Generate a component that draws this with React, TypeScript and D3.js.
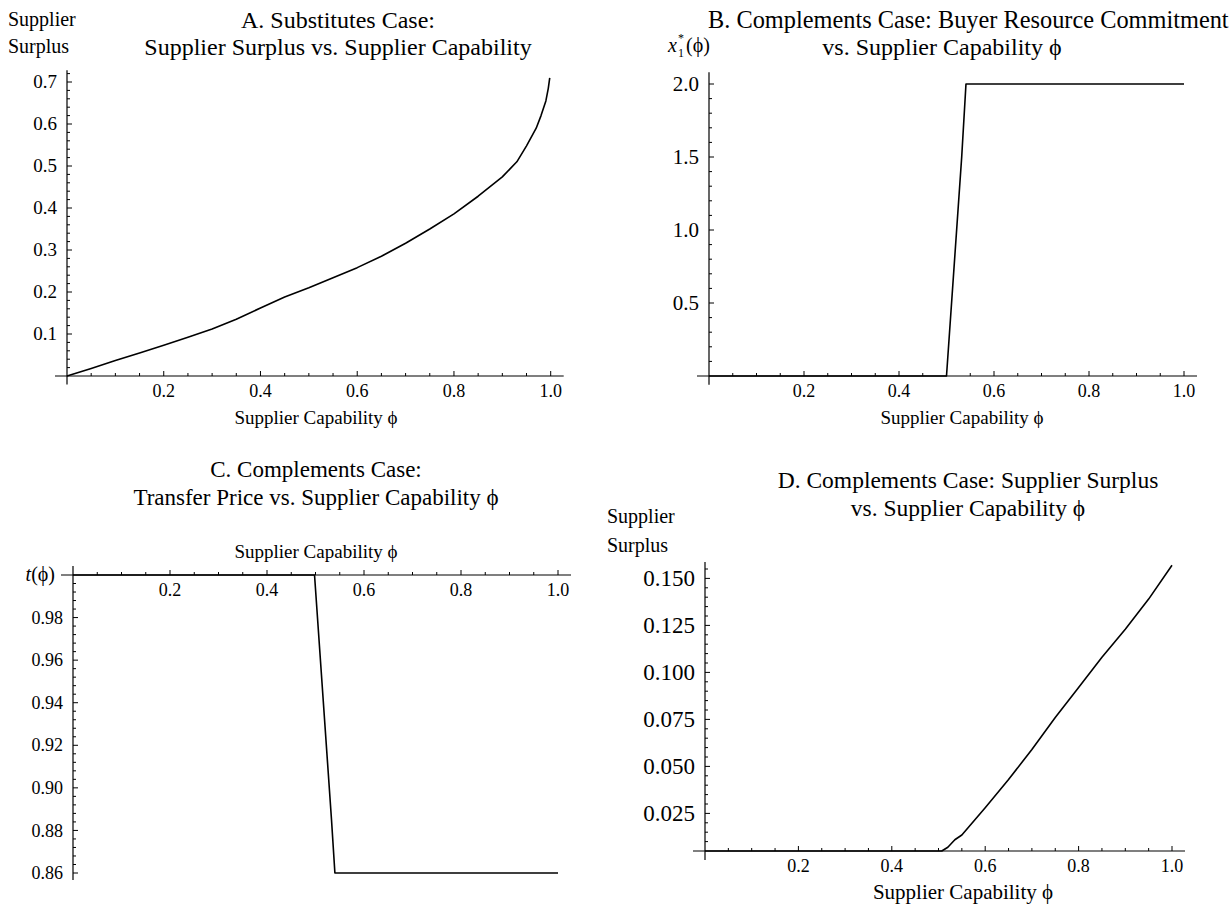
import React from "react";
import * as d3 from "d3";

// ---------- data ----------
const phiA = [0, 0.05, 0.1, 0.15, 0.2, 0.25, 0.3, 0.35, 0.4, 0.45, 0.5, 0.55, 0.6, 0.65, 0.7, 0.75, 0.8, 0.85, 0.9, 0.93, 0.95, 0.97, 0.98, 0.99, 0.995, 0.998];
const surplusA = [0, 0.018, 0.037, 0.055, 0.073, 0.092, 0.112, 0.135, 0.162, 0.188, 0.21, 0.234, 0.258, 0.285, 0.316, 0.35, 0.386, 0.428, 0.474, 0.51, 0.548, 0.59, 0.62, 0.655, 0.685, 0.71];

const phiB = [0, 0.5, 0.532, 0.541, 1.0];
const commitB = [0, 0, 1.5, 2.0, 2.0];

const phiC = [0, 0.498, 0.533, 0.54, 1.0];
const priceC = [1.0, 1.0, 0.885, 0.86, 0.86];

const phiD = [0, 0.507, 0.52, 0.535, 0.55, 0.6, 0.65, 0.7, 0.75, 0.8, 0.85, 0.9, 0.95, 1.0];
const surplusD = [0.005, 0.005, 0.007, 0.011, 0.0135, 0.028, 0.043, 0.059, 0.076, 0.092, 0.108, 0.123, 0.139, 0.157];

const xMajorTicks = [0.2, 0.4, 0.6, 0.8, 1.0];
const yMajorA = [0.1, 0.2, 0.3, 0.4, 0.5, 0.6, 0.7];
const yMajorB = [0.5, 1.0, 1.5, 2.0];
const yMajorC = [0.86, 0.88, 0.9, 0.92, 0.94, 0.96, 0.98];
const yMajorD = [0.025, 0.05, 0.075, 0.1, 0.125, 0.15];

const FONT = "'Liberation Serif', 'Times New Roman', Times, serif";

type PanelProps = {
  xs: number[];
  ys: number[];
  xPx: [number, number];
  yDom: [number, number];
  yPx: [number, number];
  axisAt: number;
  yAxisTop: number;
  yAxisBottom: number;
  xMinorStep: number;
  yMajor: number[];
  yMinorStep: number;
  yMinorFrom: number;
  yMinorTo: number;
  yFmt: string;
  yFont: number;
  xFont: number;
};

function Panel(p: PanelProps) {
  const x = d3.scaleLinear().domain([0, 1]).range(p.xPx);
  const y = d3.scaleLinear().domain(p.yDom).range(p.yPx);
  const yA = y(p.axisAt);
  const x0 = x(0);
  const pts = p.xs.map((v, i) => [v, p.ys[i]] as [number, number]);
  const line = d3.line<[number, number]>().x((d) => x(d[0])).y((d) => y(d[1]));
  const xMinor = d3.range(p.xMinorStep, 1.0001, p.xMinorStep).filter(
    (v) => !xMajorTicks.some((m) => Math.abs(m - v) < 1e-6)
  );
  const nMinor = Math.round((p.yMinorTo - p.yMinorFrom) / p.yMinorStep);
  const yMinor = d3.range(0, nMinor + 1).map((i) => p.yMinorFrom + i * p.yMinorStep).filter(
    (v) => !p.yMajor.some((m) => Math.abs(m - v) < 1e-6)
  );
  const fmt = d3.format(p.yFmt);
  return (
    <g>
      {/* axes */}
      <line x1={x0 - 12} x2={x(1) + 13} y1={yA} y2={yA} stroke="#000" strokeWidth={1.2} />
      <line x1={x0} x2={x0} y1={y(p.yAxisTop)} y2={y(p.yAxisBottom)} stroke="#000" strokeWidth={1.2} />
      {/* x ticks */}
      {xMajorTicks.map((t) => (
        <g key={"xm" + t}>
          <line x1={x(t)} x2={x(t)} y1={yA} y2={yA - 5} stroke="#000" strokeWidth={1} />
          <text x={x(t)} y={yA + 21} textAnchor="middle" fontSize={p.xFont} fontFamily={FONT}>
            {d3.format(".1f")(t)}
          </text>
        </g>
      ))}
      {xMinor.map((t) => (
        <line key={"xn" + t} x1={x(t)} x2={x(t)} y1={yA} y2={yA - 3} stroke="#000" strokeWidth={1} />
      ))}
      {/* y ticks */}
      {p.yMajor.map((t) => (
        <g key={"ym" + t}>
          <line x1={x0} x2={x0 + 5} y1={y(t)} y2={y(t)} stroke="#000" strokeWidth={1} />
          <text x={x0 - 10} y={y(t)} dy="0.34em" textAnchor="end" fontSize={p.yFont} fontFamily={FONT}>
            {fmt(t)}
          </text>
        </g>
      ))}
      {yMinor.map((t) => (
        <line key={"yn" + t} x1={x0} x2={x0 + 3} y1={y(t)} y2={y(t)} stroke="#000" strokeWidth={1} />
      ))}
      {/* curve */}
      <path d={line(pts) || ""} fill="none" stroke="#000" strokeWidth={1.6} strokeLinejoin="round" />
    </g>
  );
}

function T({ x, y, size, anchor, children, italic }: any) {
  return (
    <text x={x} y={y} fontSize={size} fontFamily={FONT} textAnchor={anchor || "middle"} fontStyle={italic ? "italic" : "normal"}>
      {children}
    </text>
  );
}

export default function App() {
  return (
    <svg
      width={1229}
      height={907}
      viewBox="0 0 1229 907"
      style={{ position: "absolute", left: 0, top: 0, background: "#fff" }}
    >
      <rect x={0} y={0} width={1229} height={907} fill="#fff" />

      {/* Panel A */}
      <T x={8} y={26} size={20} anchor="start">Supplier</T>
      <T x={8} y={53} size={20} anchor="start">Surplus</T>
      <T x={338} y={28} size={24}>A. Substitutes Case:</T>
      <T x={338} y={55} size={24}>Supplier Surplus vs. Supplier Capability</T>
      <Panel
        xs={phiA} ys={surplusA}
        xPx={[67, 550.7]} yDom={[0, 0.7]} yPx={[376, 82]}
        axisAt={0} yAxisTop={0.728} yAxisBottom={-0.02}
        xMinorStep={0.05} yMajor={yMajorA} yMinorStep={0.02} yMinorFrom={0.02} yMinorTo={0.72}
        yFmt=".1f" yFont={19} xFont={18}
      />
      <T x={316} y={424} size={19}>Supplier Capability ϕ</T>

      {/* Panel B */}
      <T x={708} y={28} size={24.35} anchor="start">B. Complements Case: Buyer Resource Commitment</T>
      <T x={942} y={55} size={24}>vs. Supplier Capability ϕ</T>
      <text x={668} y={52} fontSize={20} fontFamily={FONT} fontStyle="italic">x</text>
      <text x={678} y={57} fontSize={12} fontFamily={FONT}>1</text>
      <text x={678} y={42} fontSize={12} fontFamily={FONT}>*</text>
      <text x={686} y={52} fontSize={20} fontFamily={FONT}>(ϕ)</text>
      <Panel
        xs={phiB} ys={commitB}
        xPx={[709, 1184]} yDom={[0, 2.0]} yPx={[376, 84]}
        axisAt={0} yAxisTop={2.08} yAxisBottom={-0.06}
        xMinorStep={0.05} yMajor={yMajorB} yMinorStep={0.1} yMinorFrom={0.1} yMinorTo={2.0}
        yFmt=".1f" yFont={21} xFont={18}
      />
      <T x={962} y={424} size={19}>Supplier Capability ϕ</T>

      {/* Panel C */}
      <T x={316} y={477} size={23}>C. Complements Case:</T>
      <T x={316} y={505} size={23}>Transfer Price vs. Supplier Capability ϕ</T>
      <T x={316} y={558} size={19}>Supplier Capability ϕ</T>
      <text x={55} y={581} fontSize={20} fontFamily={FONT} textAnchor="end">
        <tspan fontStyle="italic">t</tspan>
        <tspan>(ϕ)</tspan>
      </text>
      <Panel
        xs={phiC} ys={priceC}
        xPx={[73, 558]} yDom={[0.86, 1.0]} yPx={[873, 575]}
        axisAt={1.0} yAxisTop={1.0042} yAxisBottom={0.8567}
        xMinorStep={0.05} yMajor={yMajorC} yMinorStep={0.004} yMinorFrom={0.86} yMinorTo={0.996}
        yFmt=".2f" yFont={18} xFont={18}
      />

      {/* Panel D */}
      <T x={968} y={488} size={23.5}>D. Complements Case: Supplier Surplus</T>
      <T x={968} y={516} size={23.5}>vs. Supplier Capability ϕ</T>
      <T x={607} y={523} size={20} anchor="start">Supplier</T>
      <T x={607} y={552} size={20} anchor="start">Surplus</T>
      <Panel
        xs={phiD} ys={surplusD}
        xPx={[705, 1172]} yDom={[0.005, 0.15]} yPx={[851, 578.4]}
        axisAt={0.005} yAxisTop={0.1587} yAxisBottom={0.0002}
        xMinorStep={0.05} yMajor={yMajorD} yMinorStep={0.005} yMinorFrom={0.01} yMinorTo={0.155}
        yFmt=".3f" yFont={23} xFont={18}
      />
      <T x={963} y={899} size={21}>Supplier Capability ϕ</T>
    </svg>
  );
}
